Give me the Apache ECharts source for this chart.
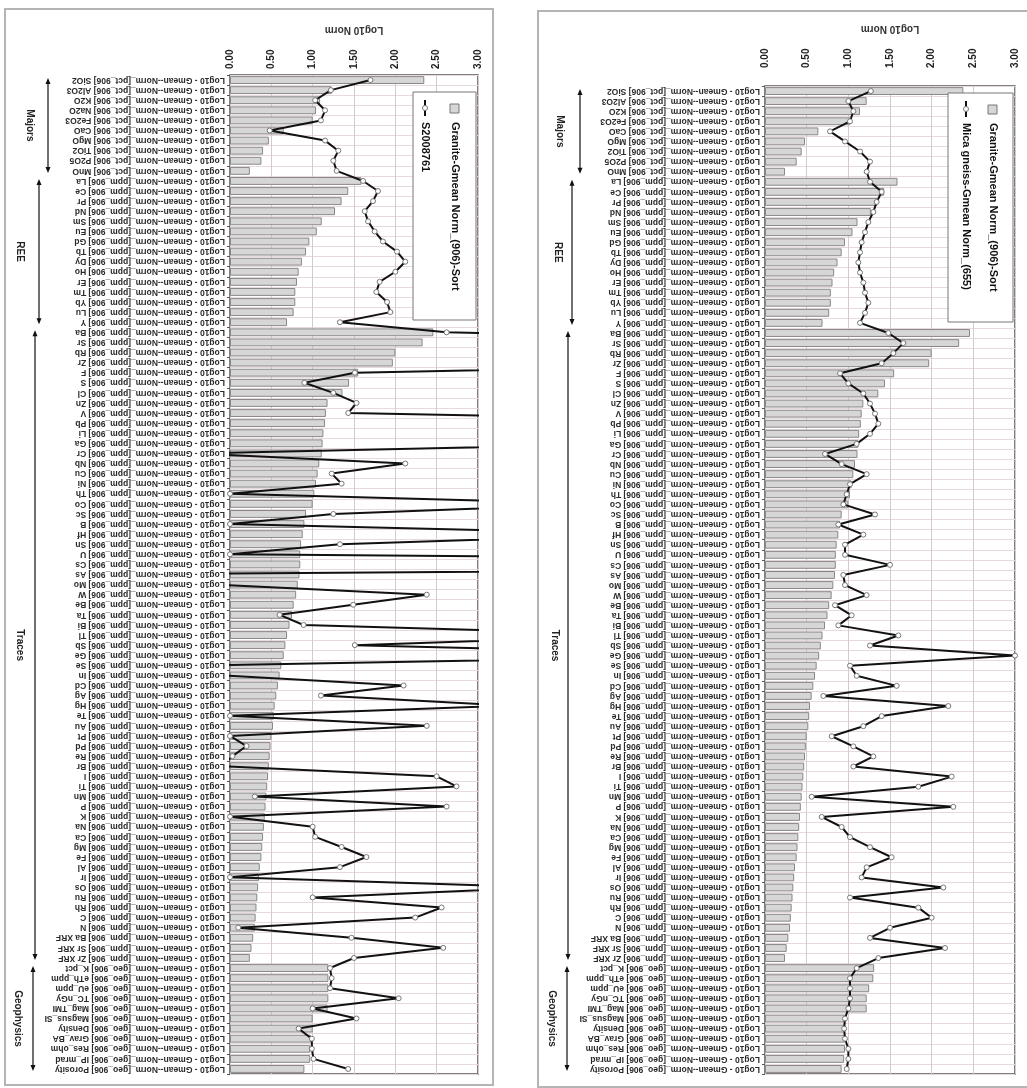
<!DOCTYPE html>
<html><head><meta charset="utf-8">
<script src="https://cdn.jsdelivr.net/npm/echarts@6/dist/echarts.min.js"></script>
<style>html,body{margin:0;padding:0;background:#fff}#c{width:1027px;height:1088px}</style>
</head><body><div id="c"></div>
<script>
// ---------- categories ----------
const majorsLeft  = ['SiO2','Al2O3','K2O','Na2O','Fe2O3','CaO','MgO','TiO2','P2O5','MnO'];
const majorsRight = ['SiO2','Al2O3','K2O','Fe2O3','CaO','MgO','TiO2','P2O5','MnO'];
const reeElements = ['La','Ce','Pr','Nd','Sm','Eu','Gd','Tb','Dy','Ho','Er','Tm','Yb','Lu','Y'];
const traceElements = ['Ba','Sr','Rb','Zr','F','S','Cl','Zn','V','Pb','Li','Ga','Cr','Nb','Cu','Ni','Th','Co','Sc','B',
  'Hf','Sn','U','Cs','As','Mo','W','Be','Ta','Bi','Tl','Sb','Ge','Se','In','Cd','Ag','Hg','Te','Au',
  'Pt','Pd','Re','Br','I','Ti','Mn','P','K','Na','Ca','Mg','Fe','Al','Ir','Os','Ru','Rh','C','N',
  'Ba XRF','Sr XRF','Zr XRF'];
const geoItems = ['K_pct','eTh_ppm','eU_ppm','TC_nGy','Mag_TMI','Magsus_SI','Density','Grav_BA','Res_ohm','IP_mrad','Porosity'];
const groupNames = ['Majors','REE','Traces','Geophysics'];
const tickLabels = ['0.00','0.50','1.00','1.50','2.00','2.50','3.00'];
const axisTitle = 'Log10 Norm';
const barSeriesName = 'Granite-Gmean Norm_(906)-Sort';
const lineNameLeft = 'S2008761';
const lineNameRight = 'Mica gneiss-Gmean Norm_(655)';

// ---------- bar values (Granite Gmean, sorted) ----------
const barMajorsLeft  = [2.35,1.23,1.09,1.04,1.0,0.65,0.47,0.40,0.38,0.24];
const barMajorsRight = [2.38,1.22,1.14,1.02,0.64,0.48,0.44,0.38,0.24];
const barREE = [1.59,1.43,1.35,1.27,1.11,1.05,0.96,0.92,0.87,0.83,0.81,0.79,0.79,0.77,0.69];
const barTraces = [2.46,2.33,2.0,1.97,1.55,1.44,1.36,1.18,1.16,1.15,1.13,1.12,1.11,1.08,1.06,1.04,1.02,1.0,0.92,0.9,
  0.88,0.86,0.85,0.85,0.84,0.82,0.8,0.77,0.75,0.72,0.69,0.67,0.65,0.62,0.6,0.58,0.56,0.54,0.53,0.52,
  0.5,0.49,0.48,0.47,0.46,0.45,0.44,0.43,0.42,0.41,0.4,0.39,0.38,0.36,0.35,0.34,0.33,0.32,0.31,0.3,
  0.28,0.26,0.24];
const barGeoLeft  = [1.19,1.19,1.19,1.19,1.18,1.0,1.0,0.98,0.97,0.97,0.9];
const barGeoRight = [1.31,1.3,1.25,1.22,1.22,0.96,0.96,0.96,0.96,0.95,0.92];

// ---------- line values ----------
const lineLeftMajors = [1.7,1.22,1.03,1.15,1.1,0.48,1.15,1.31,1.25,1.29];
const lineLeftREE = [1.61,1.79,1.73,1.63,1.67,1.75,1.85,2.02,2.12,2.0,1.81,1.77,1.9,1.94,1.33];
const lineLeftTraces = [2.62,8,8,8,1.51,0.9,1.25,1.53,1.43,8,8,5.2,-0.4,2.12,1.23,1.35,0,4.5,1.25,0,
  5.1,1.33,0,15,-1.5,-0.2,2.38,1.49,0.6,0.89,5.2,1.51,6.5,-0.2,-0.1,2.1,1.1,3.4,0,2.38,
  0,0.2,0.03,-0.1,2.5,2.74,0.3,2.62,0,1.0,1.03,1.35,1.65,1.33,0,3.8,1.0,2.56,2.24,0.1,
  1.47,2.58,1.5];
const lineLeftGeo = [1.21,1.23,1.21,2.04,1.0,1.53,0.83,0.99,0.99,1.01,1.43];

const lineRightMajors = [1.27,1.0,1.06,1.02,0.78,0.96,1.14,1.26,1.22];
const lineRightREE = [1.26,1.4,1.34,1.3,1.24,1.2,1.16,1.14,1.12,1.14,1.18,1.2,1.24,1.2,1.14];
const lineRightTraces = [1.48,1.66,1.54,1.4,0.9,1.0,1.18,1.26,1.32,1.36,1.26,1.1,0.72,0.92,1.22,1.02,0.98,0.94,1.32,0.88,
  1.18,0.96,0.96,1.5,0.94,0.96,1.22,0.84,1.04,0.88,1.6,1.26,3.0,1.02,1.1,1.58,0.7,2.2,1.4,1.18,
  0.8,1.06,1.3,1.06,2.24,1.84,0.56,2.26,0.68,0.92,1.02,1.26,1.52,1.22,1.16,2.14,1.02,1.84,2.0,1.5,
  1.26,2.16,1.36];
const lineRightGeo = [1.1,1.02,1.02,1.02,1.0,0.96,0.95,0.96,1.0,1.0,0.98];

// ---------- build ----------
const FONT = 'Liberation Sans, Arial, sans-serif';
const lab = (unit, el) => 'Log10 - Gmean--Norm_[' + unit + '_906] ' + el;
function cats(majors){
  return [].concat(majors.map(e=>lab('pct',e)), reeElements.map(e=>lab('ppm',e)),
    traceElements.map(e=>lab('ppm',e)), geoItems.map(e=>lab('geo',e)));
}
const panels = [
  { cats: cats(majorsLeft),
    bars: [].concat(barMajorsLeft, barREE, barTraces, barGeoLeft),
    line: [].concat(lineLeftMajors, lineLeftREE, lineLeftTraces, lineLeftGeo),
    counts: [majorsLeft.length, reeElements.length, traceElements.length, geoItems.length],
    lineName: lineNameLeft,
    grid: {left:230, top:75, width:248, height:999}, labelMargin: 6, nameGap: 40,
    frame: {x:5, y:9, width:488, height:1076},
    legend: {x:413, y:92, width:63, height:228, barX:455, lineX:425},
    arrowX: [48, 39, 35, 33], textX: [30, 20, 20, 18] },
  { cats: cats(majorsRight),
    bars: [].concat(barMajorsRight, barREE, barTraces, barGeoRight),
    line: [].concat(lineRightMajors, lineRightREE, lineRightTraces, lineRightGeo),
    counts: [majorsRight.length, reeElements.length, traceElements.length, geoItems.length],
    lineName: lineNameRight,
    grid: {left:765, top:86, width:250, height:988}, labelMargin: 18, nameGap: 52,
    frame: {x:538, y:11, width:520, height:1076},
    legend: {x:948, y:93, width:65, height:229, barX:993, lineX:966},
    arrowX: [580, 572, 568, 567], textX: [560, 558, 555, 552] }
];

const chart = echarts.init(document.getElementById('c'), null, {renderer:'canvas', width:1027, height:1088});
const option = {
  animation: false,
  backgroundColor: '#fff',
  textStyle: {fontFamily: FONT},
  grid: panels.map(p => Object.assign({show:true, borderColor:'#555', borderWidth:1.5, backgroundColor:'#fff'}, p.grid)),
  xAxis: panels.map((p,i) => ({
    gridIndex: i, type:'value', position:'top', min:0, max:3, interval:0.5,
    name: axisTitle, nameLocation:'middle', nameGap: p.nameGap, nameRotate: 180,
    nameTextStyle: {fontSize:10, fontWeight:'bold', color:'#333', fontFamily:FONT},
    axisLine:{show:false}, axisTick:{show:false},
    axisLabel:{rotate:-90, fontSize:10, fontWeight:'bold', color:'#222', margin:p.labelMargin, fontFamily:FONT,
      formatter: v => tickLabels[Math.round(v/0.5)]},
    splitLine:{show:true, lineStyle:{color:'#d9c9c9', width:1}}
  })),
  yAxis: panels.map((p,i) => ({
    gridIndex: i, type:'category', data: p.cats, inverse:true,
    axisLine:{show:false},
    axisTick:{show:true, length:3, interval:0, lineStyle:{color:'#555'}},
    axisLabel:{rotate:180, fontSize:8.5, fontWeight:'bold', color:'#2a2a2a', margin:5, interval:0, fontFamily:FONT},
    splitLine:{show:true, interval:0, lineStyle:{color:'#e6dada', width:1}}
  })),
  series: [].concat(...panels.map((p,i) => [
    { type:'bar', name: barSeriesName, xAxisIndex:i, yAxisIndex:i, data:p.bars, barCategoryGap:'22%',
      itemStyle:{color:'#d6d6d6', borderColor:'#888', borderWidth:1} },
    { type:'line', name: p.lineName, xAxisIndex:i, yAxisIndex:i, data:p.line, clip:true,
      symbol:'circle', symbolSize:5, showAllSymbol:true,
      lineStyle:{color:'#111', width:2},
      itemStyle:{color:'#fff', borderColor:'#777', borderWidth:1}, z:3 }
  ]))
};
chart.setOption(option);

// ---------- annotations: frames, legends, group arrows ----------
const graphics = [];
panels.forEach((p, pi) => {
  graphics.push({type:'rect', silent:true, z:-10, shape:p.frame, style:{fill:null, stroke:'#b4b4b4', lineWidth:2}});
  const L = p.legend;
  graphics.push({type:'rect', silent:true, z:50, shape:{x:L.x, y:L.y, width:L.width, height:L.height},
    style:{fill:'#fff', stroke:'#777', lineWidth:1}});
  graphics.push({type:'rect', silent:true, z:51, shape:{x:L.barX-5, y:L.y+12, width:9, height:9},
    style:{fill:'#d6d6d6', stroke:'#777', lineWidth:1}});
  graphics.push({type:'text', silent:true, z:51, x:L.barX, y:L.y+30, rotation:-Math.PI/2,
    style:{text:barSeriesName, fontSize:11, fontWeight:'bold', fill:'#111', fontFamily:FONT, textAlign:'left', textVerticalAlign:'middle'}});
  graphics.push({type:'line', silent:true, z:51, shape:{x1:L.lineX, y1:L.y+8, x2:L.lineX, y2:L.y+24},
    style:{stroke:'#111', lineWidth:2}});
  graphics.push({type:'circle', silent:true, z:52, shape:{cx:L.lineX, cy:L.y+16, r:2.5},
    style:{fill:'#fff', stroke:'#777', lineWidth:1}});
  graphics.push({type:'text', silent:true, z:51, x:L.lineX, y:L.y+30, rotation:-Math.PI/2,
    style:{text:p.lineName, fontSize:11, fontWeight:'bold', fill:'#111', fontFamily:FONT, textAlign:'left', textVerticalAlign:'middle'}});
  const c0 = chart.convertToPixel({yAxisIndex:pi}, p.cats[0]);
  const c1 = chart.convertToPixel({yAxisIndex:pi}, p.cats[1]);
  const band = c1 - c0;
  let start = 0;
  p.counts.forEach((n, gi) => {
    const yA = chart.convertToPixel({yAxisIndex:pi}, p.cats[start]) - band/2 + 3;
    const yB = chart.convertToPixel({yAxisIndex:pi}, p.cats[start+n-1]) + band/2 - 3;
    const x = p.arrowX[gi];
    graphics.push({type:'line', silent:true, shape:{x1:x, y1:yA+2, x2:x, y2:yB-2}, style:{stroke:'#111', lineWidth:1.2}});
    graphics.push({type:'polygon', silent:true, shape:{points:[[x,yA],[x-2.5,yA+6],[x+2.5,yA+6]]}, style:{fill:'#111'}});
    graphics.push({type:'polygon', silent:true, shape:{points:[[x,yB],[x-2.5,yB-6],[x+2.5,yB-6]]}, style:{fill:'#111'}});
    graphics.push({type:'text', silent:true, x:p.textX[gi], y:(yA+yB)/2, rotation:-Math.PI/2,
      style:{text:groupNames[gi], fontSize:10, fontWeight:'bold', fill:'#222', fontFamily:FONT, textAlign:'center', textVerticalAlign:'middle'}});
    start += n;
  });
});
chart.setOption({graphic: graphics});
</script>
</body></html>
